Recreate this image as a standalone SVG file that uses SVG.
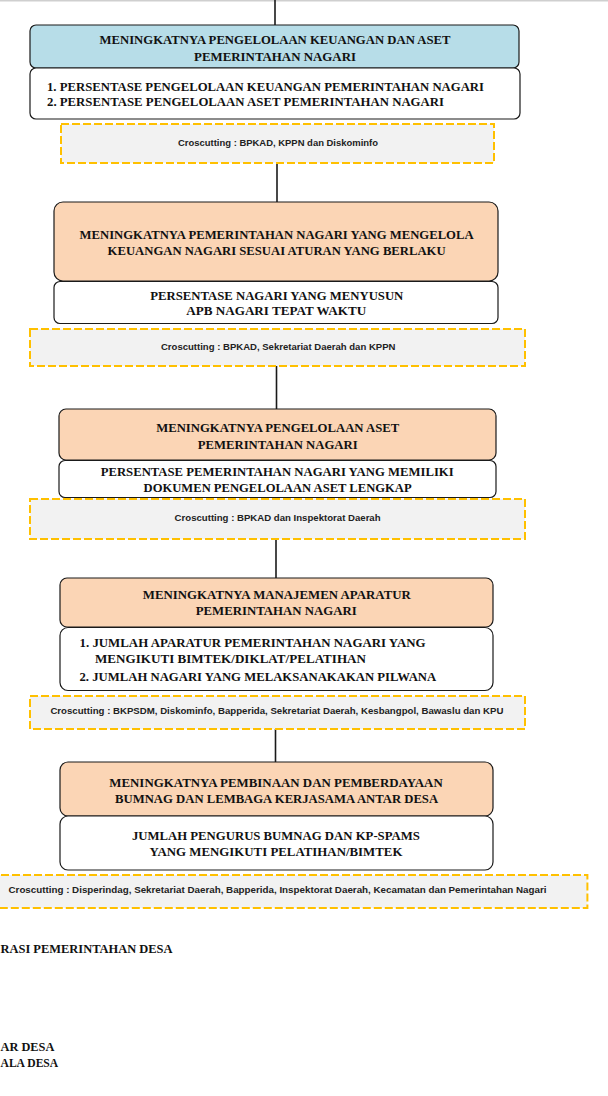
<svg xmlns="http://www.w3.org/2000/svg" width="608" height="1096" viewBox="0 0 608 1096">
<style>
.t{font-family:"Liberation Serif","Times New Roman",serif;font-weight:bold;font-size:12.5px;fill:#111}
.c{font-family:"Liberation Sans",Arial,sans-serif;font-weight:bold;font-size:8.5px;fill:#222}
.box{stroke:#1a1a1a;stroke-width:1.2}
.blue{fill:#b7dde8}
.org{fill:#fbd5b5}
.wht{fill:#ffffff}
.cc{fill:#f2f2f2;stroke:#ffc000;stroke-width:2;stroke-dasharray:8 3}
.ln{stroke:#1a1a1a;stroke-width:1.6;fill:none}
</style>
<rect width="608" height="1096" fill="#ffffff"/>
<rect x="0" y="0" width="608" height="1.5" fill="#cfcfcf"/>
<g id="connectors">
<line class="ln" x1="275" y1="0" x2="275" y2="25"/>
<line class="ln" x1="277" y1="163" x2="277" y2="202"/>
<line class="ln" x1="276.5" y1="366" x2="276.5" y2="409"/>
<line class="ln" x1="276" y1="539" x2="276" y2="578"/>
<line class="ln" x1="275.5" y1="729" x2="275.5" y2="762"/>
</g>
<g id="n1">
<rect class="box blue" x="30" y="25" width="489" height="43" rx="6"/>
<text class="t" x="275" y="44" text-anchor="middle" textLength="351" lengthAdjust="spacingAndGlyphs">MENINGKATNYA PENGELOLAAN KEUANGAN DAN ASET</text>
<text class="t" x="275" y="61" text-anchor="middle" textLength="162" lengthAdjust="spacingAndGlyphs">PEMERINTAHAN NAGARI</text>
</g>
<g id="n1i">
<rect class="box wht" x="30" y="68" width="490" height="51" rx="6"/>
<text class="t" x="47" y="91" textLength="437" lengthAdjust="spacingAndGlyphs">1. PERSENTASE PENGELOLAAN KEUANGAN PEMERINTAHAN NAGARI</text>
<text class="t" x="47" y="106" textLength="397" lengthAdjust="spacingAndGlyphs">2. PERSENTASE PENGELOLAAN ASET PEMERINTAHAN NAGARI</text>
</g>
<g id="n1c">
<rect class="cc" x="61" y="124" width="433" height="39"/>
<text class="c" x="278" y="146" text-anchor="middle" textLength="200" lengthAdjust="spacingAndGlyphs">Croscutting : BPKAD, KPPN dan Diskominfo</text>
</g>
<g id="n2">
<rect class="box org" x="54" y="202" width="444" height="79" rx="9"/>
<text class="t" x="276.6" y="239" text-anchor="middle" textLength="394" lengthAdjust="spacingAndGlyphs">MENINGKATNYA PEMERINTAHAN NAGARI YANG MENGELOLA</text>
<text class="t" x="276.6" y="254.5" text-anchor="middle" textLength="338" lengthAdjust="spacingAndGlyphs">KEUANGAN NAGARI SESUAI ATURAN YANG BERLAKU</text>
</g>
<g id="n2i">
<rect class="box wht" x="54" y="281.5" width="444" height="42" rx="6"/>
<text class="t" x="276.8" y="300" text-anchor="middle" textLength="253" lengthAdjust="spacingAndGlyphs">PERSENTASE NAGARI YANG MENYUSUN</text>
<text class="t" x="276.2" y="315" text-anchor="middle" textLength="180" lengthAdjust="spacingAndGlyphs">APB NAGARI TEPAT WAKTU</text>
</g>
<g id="n2c">
<rect class="cc" x="30" y="329" width="495" height="37"/>
<text class="c" x="278.2" y="349.5" text-anchor="middle" textLength="234.5" lengthAdjust="spacingAndGlyphs">Croscutting : BPKAD, Sekretariat Daerah dan KPPN</text>
</g>
<g id="n3">
<rect class="box org" x="59" y="409" width="437" height="51" rx="7"/>
<text class="t" x="277.7" y="432" text-anchor="middle" textLength="243" lengthAdjust="spacingAndGlyphs">MENINGKATNYA PENGELOLAAN ASET</text>
<text class="t" x="277.7" y="448.7" text-anchor="middle" textLength="160" lengthAdjust="spacingAndGlyphs">PEMERINTAHAN NAGARI</text>
</g>
<g id="n3i">
<rect class="box wht" x="59" y="460.5" width="437" height="37" rx="6"/>
<text class="t" x="277.2" y="475.5" text-anchor="middle" textLength="353" lengthAdjust="spacingAndGlyphs">PERSENTASE PEMERINTAHAN NAGARI YANG MEMILIKI</text>
<text class="t" x="277.6" y="492" text-anchor="middle" textLength="268" lengthAdjust="spacingAndGlyphs">DOKUMEN PENGELOLAAN ASET LENGKAP</text>
</g>
<g id="n3c">
<rect class="cc" x="30" y="499" width="495" height="40"/>
<text class="c" x="277.6" y="521" text-anchor="middle" textLength="206" lengthAdjust="spacingAndGlyphs">Croscutting : BPKAD dan Inspektorat Daerah</text>
</g>
<g id="n4">
<rect class="box org" x="60" y="578" width="433" height="49" rx="7"/>
<text class="t" x="276.8" y="599.3" text-anchor="middle" textLength="268" lengthAdjust="spacingAndGlyphs">MENINGKATNYA MANAJEMEN APARATUR</text>
<text class="t" x="276.2" y="615.3" text-anchor="middle" textLength="161" lengthAdjust="spacingAndGlyphs">PEMERINTAHAN NAGARI</text>
</g>
<g id="n4i">
<rect class="box wht" x="60" y="627.5" width="433" height="63" rx="8"/>
<text class="t" x="79.5" y="647.3" textLength="346" lengthAdjust="spacingAndGlyphs">1. JUMLAH APARATUR PEMERINTAHAN NAGARI YANG</text>
<text class="t" x="95" y="663.3" textLength="271" lengthAdjust="spacingAndGlyphs">MENGIKUTI BIMTEK/DIKLAT/PELATIHAN</text>
<text class="t" x="79.5" y="680.7" textLength="356.7" lengthAdjust="spacingAndGlyphs">2. JUMLAH NAGARI YANG MELAKSANAKAKAN PILWANA</text>
</g>
<g id="n4c">
<rect class="cc" x="30" y="696" width="495" height="33"/>
<text class="c" x="50.4" y="714" textLength="453" lengthAdjust="spacingAndGlyphs">Croscutting : BKPSDM, Diskominfo, Bapperida, Sekretariat Daerah, Kesbangpol, Bawaslu dan KPU</text>
</g>
<g id="n5">
<rect class="box org" x="60" y="762" width="433" height="54" rx="8"/>
<text class="t" x="276" y="786.7" text-anchor="middle" textLength="333.5" lengthAdjust="spacingAndGlyphs">MENINGKATNYA PEMBINAAN DAN PEMBERDAYAAN</text>
<text class="t" x="276.6" y="802.7" text-anchor="middle" textLength="323" lengthAdjust="spacingAndGlyphs">BUMNAG DAN LEMBAGA KERJASAMA ANTAR DESA</text>
</g>
<g id="n5i">
<rect class="box wht" x="60" y="816" width="433" height="54" rx="8"/>
<text class="t" x="275.9" y="840" text-anchor="middle" textLength="288" lengthAdjust="spacingAndGlyphs">JUMLAH PENGURUS BUMNAG DAN KP-SPAMS</text>
<text class="t" x="275.9" y="855.7" text-anchor="middle" textLength="253" lengthAdjust="spacingAndGlyphs">YANG MENGIKUTI PELATIHAN/BIMTEK</text>
</g>
<g id="n5c">
<rect class="cc" x="-10" y="875" width="597.4" height="33"/>
<text class="c" x="8.5" y="892.7" textLength="538" lengthAdjust="spacingAndGlyphs">Croscutting : Disperindag, Sekretariat Daerah, Bapperida, Inspektorat Daerah, Kecamatan dan Pemerintahan Nagari</text>
</g>
<g id="bottom">
<text class="t" x="0.5" y="953.3" textLength="172" lengthAdjust="spacingAndGlyphs">RASI PEMERINTAHAN DESA</text>
<text class="t" x="0.5" y="1050.7" textLength="53.8" lengthAdjust="spacingAndGlyphs">AR DESA</text>
<text class="t" x="0.5" y="1067.3" textLength="57.7" lengthAdjust="spacingAndGlyphs">ALA DESA</text>
</g>
</svg>
